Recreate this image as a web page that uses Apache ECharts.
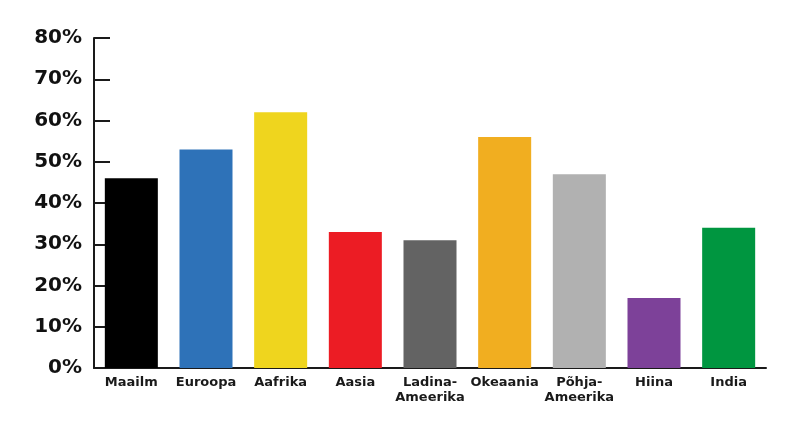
<!DOCTYPE html>
<html><head><meta charset="utf-8">
<script src="https://cdn.jsdelivr.net/npm/echarts@6/dist/echarts.min.js"></script>
<style>html,body{margin:0;padding:0;background:#fff}#c{width:800px;height:431px}</style>
</head><body><div id="c"></div>
<script>
const categories = ['Maailm','Euroopa','Aafrika','Aasia','Ladina-\nAmeerika','Okeaania','Põhja-\nAmeerika','Hiina','India'];
const values = [46, 53, 62, 33, 31, 56, 47, 17, 34];
const colors = ['#000000','#2e72b8','#efd51e','#ec1c24','#636363','#f1ae20','#b1b1b1','#7d4199','#009640'];
const yTicks = [0,10,20,30,40,50,60,70,80];

const chart = echarts.init(document.getElementById('c'));
chart.setOption({
  animation:false,
  grid:{left:94,right:34,top:38,bottom:63,containLabel:false},
  xAxis:{
    type:'category', data:categories,
    axisLine:{lineStyle:{color:'#1a1a1a',width:2}},
    axisTick:{inside:true,length:8,lineStyle:{color:'#1a1a1a',width:2}},
    axisLabel:{color:'#1a1a1a',fontFamily:'DejaVu Sans',fontWeight:'bold',fontSize:13,margin:7,lineHeight:15,interval:0}
  },
  yAxis:{
    type:'value', min:yTicks[0], max:yTicks[yTicks.length-1], interval:10,
    axisLine:{show:true,lineStyle:{color:'#1a1a1a',width:2}},
    axisTick:{show:true,inside:true,length:16,lineStyle:{color:'#1a1a1a',width:2}},
    splitLine:{show:false},
    axisLabel:{color:'#111',fontFamily:'DejaVu Sans',fontWeight:'bold',fontSize:20,margin:12,formatter:v=>v+'%'}
  },
  series:[{
    type:'bar', barCategoryGap:'29%',
    data:values.map((v,i)=>({value:v,itemStyle:{color:colors[i]}}))
  }]
});
</script></body></html>
